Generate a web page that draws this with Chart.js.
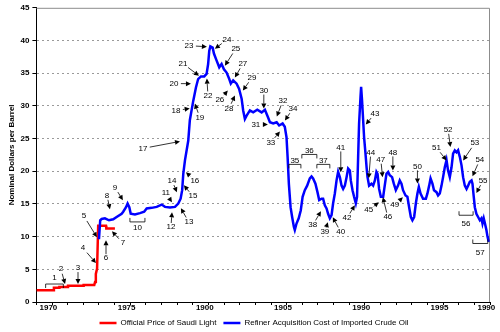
<!DOCTYPE html>
<html>
<head>
<meta charset="utf-8">
<script src="https://cdn.jsdelivr.net/npm/chart.js@4.4.1/dist/chart.umd.min.js"></script>
<style>
  html, body { margin: 0; padding: 0; background: #fff; }
</style>
</head>
<body>
<canvas id="oilChart" width="500" height="332"></canvas>
<script>
// Official price of Saudi Light (year, $/bbl)
const saudiYears  = [1970.0, 1971.1, 1971.12, 1971.45, 1971.47, 1972.0, 1972.02, 1973.0, 1973.02, 1973.70, 1973.75, 1973.80, 1973.88, 1973.95, 1974.45, 1974.47, 1975.02];
const saudiPrices = [1.80, 1.80, 2.18, 2.18, 2.29, 2.29, 2.48, 2.48, 2.59, 2.60, 3.07, 4.30, 5.12, 11.65, 11.65, 11.25, 11.25];

// Refiner acquisition cost of imported crude oil (year, $/bbl)
const racYears = [
  1974.00, 1974.08, 1974.17, 1974.38, 1974.64, 1974.91, 1975.13, 1975.45, 1975.55, 1975.73,
  1975.83, 1975.94, 1976.03, 1976.30, 1976.62, 1976.89, 1977.05, 1977.37, 1977.69, 1978.01,
  1978.22, 1978.54, 1978.86, 1979.07, 1979.22, 1979.32, 1979.39, 1979.50, 1979.71, 1979.81,
  1980.03, 1980.20, 1980.34, 1980.52, 1980.73, 1980.88, 1980.98, 1981.05, 1981.12, 1981.27,
  1981.35, 1981.51, 1981.69, 1981.84, 1981.99, 1982.16, 1982.33, 1982.43, 1982.58, 1982.80,
  1982.96, 1983.12, 1983.22, 1983.33, 1983.44, 1983.65, 1983.86, 1984.12, 1984.40, 1984.61,
  1984.80, 1984.93, 1985.14, 1985.36, 1985.52, 1985.74, 1985.88, 1985.99, 1986.06, 1986.14,
  1986.25, 1986.35, 1986.46, 1986.52, 1986.63, 1986.77, 1986.90, 1987.02, 1987.16, 1987.31,
  1987.48, 1987.59, 1987.69, 1987.84, 1987.97, 1988.08, 1988.23, 1988.33, 1988.44, 1988.55,
  1988.65, 1988.76, 1988.87, 1988.97, 1989.08, 1989.19, 1989.29, 1989.40, 1989.51, 1989.61,
  1989.72, 1989.83, 1989.93, 1990.04, 1990.10, 1990.21, 1990.31, 1990.42, 1990.50, 1990.57,
  1990.63, 1990.72, 1990.76, 1990.82, 1990.89, 1990.95, 1991.04, 1991.11, 1991.17, 1991.27,
  1991.42, 1991.53, 1991.64, 1991.74, 1991.81, 1991.91, 1992.02, 1992.17, 1992.27, 1992.38,
  1992.49, 1992.59, 1992.74, 1992.85, 1992.98, 1993.12, 1993.23, 1993.34, 1993.44, 1993.60,
  1993.72, 1993.83, 1993.94, 1994.04, 1994.15, 1994.26, 1994.36, 1994.45, 1994.56, 1994.72,
  1994.90, 1995.00, 1995.11, 1995.20, 1995.32, 1995.42, 1995.58, 1995.68, 1995.79, 1995.90,
  1996.00, 1996.11, 1996.22, 1996.32, 1996.43, 1996.54, 1996.64, 1996.75, 1996.86, 1996.96,
  1997.07, 1997.18, 1997.28, 1997.39, 1997.50, 1997.60, 1997.71, 1997.82, 1997.88, 1997.96,
  1998.03, 1998.13, 1998.24, 1998.35, 1998.45, 1998.52, 1998.60, 1998.66, 1998.77, 1998.84,
  1998.92
];
const racPrices = [
  9.6, 12.5, 12.7, 12.8, 12.5, 12.65, 13.0, 13.5, 13.8, 14.5,
  15.05, 14.5, 13.5, 13.4, 13.6, 13.8, 14.3, 14.4, 14.55, 14.9,
  14.55, 14.45, 14.55, 15.05, 15.8, 17.1, 19.6, 21.7, 24.7, 27.8,
  30.8, 32.8, 34.1, 34.5, 34.5, 34.9, 36.4, 38.4, 39.1, 38.9,
  38.0, 37.0, 35.9, 36.4, 35.6, 35.1, 34.1, 33.4, 33.9, 33.4,
  32.6, 31.1, 29.3, 28.0, 28.5, 29.3, 29.0, 29.4, 29.0, 29.4,
  28.3, 27.5, 27.3, 27.5, 27.0, 27.3, 26.8, 25.2, 22.2, 18.1,
  14.5, 13.0, 11.5, 11.0, 12.0, 12.8, 14.0, 16.1, 17.1, 17.8,
  18.9, 19.2, 18.9, 18.1, 16.8, 15.6, 15.8, 15.8, 14.8, 14.3,
  13.5, 12.8, 13.3, 15.1, 16.6, 18.6, 19.9, 19.1, 17.8, 17.3,
  17.8, 19.1, 20.4, 20.1, 18.6, 17.1, 16.1, 15.1, 16.1, 22.2,
  27.3, 31.3, 32.9, 30.8, 27.8, 25.2, 22.7, 20.6, 19.1, 17.8,
  18.1, 17.8, 18.6, 19.9, 19.6, 17.3, 16.1, 16.1, 17.8, 19.6,
  19.9, 19.4, 19.1, 18.1, 17.1, 17.8, 18.6, 18.1, 17.1, 16.3,
  16.1, 14.5, 13.0, 12.5, 13.0, 15.1, 16.6, 17.6, 16.6, 15.8,
  15.8, 16.6, 17.8, 18.9, 18.1, 17.1, 16.8, 16.3, 16.6, 17.8,
  19.1, 20.6, 21.7, 20.1, 19.1, 20.6, 22.7, 23.2, 22.9, 23.2,
  22.2, 20.9, 19.1, 17.8, 17.3, 17.8, 18.4, 18.6, 18.1, 16.1,
  14.5, 13.5, 13.0, 12.5, 12.8, 12.0, 12.8, 12.2, 11.0, 10.0,
  9.2
];

const tickYears  = [1970, 1975, 1980, 1985, 1990, 1995, 1998];
const tickLabels = ['1970', '1975', '1900', '1905', '1990', '1995', '1990'];

// numbered arrows: label, text at (year, $), arrow tip at (year, $)
const arrowNotes = [
  ['2', 1971.57, 5.03, 1971.83, 2.75],
  ['3', 1972.66, 5.19, 1972.66, 2.75],
  ['4', 1972.98, 8.24, 1973.81, 5.95],
  ['5', 1973.04, 13.12, 1973.87, 9.91],
  ['6', 1974.45, 6.71, 1974.45, 9.46],
  ['7', 1975.53, 9.00, 1974.83, 10.83],
  ['8', 1974.51, 16.32, 1974.70, 14.19],
  ['9', 1975.02, 17.54, 1975.53, 15.56],
  ['11', 1978.28, 16.63, 1978.67, 15.25],
  ['12', 1978.60, 11.44, 1978.67, 13.73],
  ['13', 1979.75, 12.20, 1979.24, 14.34],
  ['14', 1978.67, 18.61, 1978.98, 16.78],
  ['15', 1980.01, 16.17, 1979.43, 17.85],
  ['16', 1980.13, 18.61, 1979.56, 19.83],
  ['17', 1976.81, 23.49, 1979.18, 24.56],
  ['18', 1978.92, 29.29, 1979.80, 29.59],
  ['19', 1980.45, 28.22, 1980.13, 30.35],
  ['20', 1978.79, 33.40, 1979.88, 33.40],
  ['21', 1979.37, 36.46, 1980.39, 34.62],
  ['22', 1980.97, 31.57, 1980.90, 34.17],
  ['23', 1979.75, 39.20, 1980.90, 39.05],
  ['24', 1982.18, 40.12, 1981.41, 38.74],
  ['25', 1982.75, 38.74, 1982.05, 36.15],
  ['26', 1981.73, 30.96, 1982.24, 32.34],
  ['27', 1983.20, 36.46, 1982.69, 34.32],
  ['28', 1982.31, 29.59, 1982.69, 31.57],
  ['29', 1983.78, 34.32, 1983.20, 32.34],
  ['30', 1984.54, 32.34, 1984.54, 29.59],
  ['31', 1984.03, 27.15, 1984.80, 27.15],
  ['32', 1985.76, 30.81, 1985.37, 28.37],
  ['33', 1984.99, 24.41, 1985.57, 26.08],
  ['34', 1986.40, 29.59, 1985.89, 27.76],
  ['38', 1987.67, 11.75, 1988.19, 13.88],
  ['39', 1988.44, 10.68, 1988.63, 12.20],
  ['40', 1989.46, 10.68, 1988.95, 12.97],
  ['41', 1989.46, 23.64, 1989.46, 19.83],
  ['42', 1989.85, 12.81, 1990.36, 14.80],
  ['43', 1991.64, 28.83, 1991.06, 27.15],
  ['44', 1991.38, 22.88, 1991.25, 18.91],
  ['45', 1991.25, 14.03, 1991.89, 15.25],
  ['46', 1992.47, 12.97, 1992.15, 16.02],
  ['47', 1992.02, 21.81, 1992.13, 19.07],
  ['48', 1992.79, 22.88, 1992.79, 20.13],
  ['49', 1992.91, 14.80, 1993.43, 16.02],
  ['50', 1994.36, 20.74, 1994.36, 18.11],
  ['51', 1995.58, 23.60, 1996.22, 21.66],
  ['52', 1996.32, 26.39, 1996.47, 23.69],
  ['53', 1998.03, 24.30, 1997.28, 21.66],
  ['54', 1998.35, 21.77, 1997.88, 19.22],
  ['55', 1998.56, 18.61, 1998.13, 16.67]
];

// numbered brackets: label, from year, to year, bracket level $, label at $
const bracketNotes = [
  ['1', 1970.59, 1971.72, 2.75, 3.66],
  ['10', 1975.98, 1976.94, 12.25, 11.29],
  ['35', 1986.14, 1986.91, 21.05, 21.66],
  ['36', 1986.97, 1987.93, 22.57, 23.19],
  ['37', 1987.93, 1988.76, 21.05, 21.66],
  ['56', 1997.02, 1997.92, 13.27, 11.90],
  ['57', 1997.90, 1998.86, 8.95, 7.47]
];

const toPoints = (xs, ys) => xs.map((v, i) => ({ x: v, y: ys[i] }));

// grey frame on top and right of plot
const framePlugin = {
  id: 'frame',
  beforeDatasetsDraw(chart) {
    const { ctx, chartArea: a } = chart;
    ctx.save();
    ctx.strokeStyle = '#8c8c8c';
    ctx.lineWidth = 1;
    ctx.beginPath();
    ctx.moveTo(a.left, a.top + 0.5);
    ctx.lineTo(a.right - 0.5, a.top + 0.5);
    ctx.lineTo(a.right - 0.5, a.bottom);
    ctx.stroke();
    ctx.restore();
  }
};

const notesPlugin = {
  id: 'notes',
  afterDatasetsDraw(chart) {
    const { ctx } = chart;
    const xs = chart.scales.x, ys = chart.scales.y;
    ctx.save();
    ctx.fillStyle = '#000';
    ctx.strokeStyle = '#000';
    ctx.lineWidth = 0.8;
    ctx.font = '8px "Liberation Sans", Arial, sans-serif';
    ctx.textAlign = 'center';
    ctx.textBaseline = 'middle';

    arrowNotes.forEach(([label, tx, ty, px, py]) => {
      const x0 = xs.getPixelForValue(tx), y0 = ys.getPixelForValue(ty);
      const x1 = xs.getPixelForValue(px), y1 = ys.getPixelForValue(py);
      ctx.fillText(label, x0, y0);
      const dx = x1 - x0, dy = y1 - y0;
      const len = Math.hypot(dx, dy);
      const ux = dx / len, uy = dy / len;
      const gap = 4 + 3 * Math.abs(ux);
      const head = 5, half = 2.5;
      const bx = x1 - ux * head, by = y1 - uy * head;
      ctx.beginPath();
      ctx.moveTo(x0 + ux * gap, y0 + uy * gap);
      ctx.lineTo(bx, by);
      ctx.stroke();
      ctx.beginPath();
      ctx.moveTo(x1, y1);
      ctx.lineTo(bx - uy * half, by + ux * half);
      ctx.lineTo(bx + uy * half, by - ux * half);
      ctx.closePath();
      ctx.fill();
    });

    bracketNotes.forEach(([label, a, b, level, ly]) => {
      const xa = xs.getPixelForValue(a), xb = xs.getPixelForValue(b);
      const yl = ys.getPixelForValue(level), yt = ys.getPixelForValue(ly);
      const dir = yt < yl ? 4 : -4; // ticks point away from the label
      ctx.beginPath();
      ctx.moveTo(xa, yl + dir);
      ctx.lineTo(xa, yl);
      ctx.lineTo(xb, yl);
      ctx.lineTo(xb, yl + dir);
      ctx.stroke();
      ctx.fillText(label, (xa + xb) / 2, yt);
    });
    ctx.restore();
  }
};

const legendShift = {
  id: 'legendShift',
  afterLayout(chart) {
    chart.legend.left += 9;
    chart.legend.right += 9;
  }
};

Chart.defaults.font.family = '"Liberation Sans", Arial, sans-serif';
Chart.defaults.font.size = 8;
Chart.defaults.color = '#000';

new Chart(document.getElementById('oilChart'), {
  type: 'line',
  data: {
    datasets: [
      {
        label: 'Official Price of Saudi Light',
        data: toPoints(saudiYears, saudiPrices),
        borderColor: '#ff0000',
        backgroundColor: '#ff0000',
        borderWidth: 2.5,
        pointRadius: 0,
        tension: 0,
        order: 2
      },
      {
        label: 'Refiner Acquisition Cost of Imported Crude Oil',
        data: toPoints(racYears, racPrices),
        borderColor: '#0000ff',
        backgroundColor: '#0000ff',
        borderWidth: 2.5,
        pointRadius: 0,
        tension: 0,
        order: 1
      }
    ]
  },
  options: {
    responsive: false,
    animation: false,
    layout: { padding: { left: 0, right: 10, top: 7, bottom: 0 } },
    scales: {
      x: {
        type: 'linear',
        min: 1970,
        max: 1999,
        ticks: {
          stepSize: 1,
          autoSkip: false,
          maxRotation: 0,
          labelOffset: 12,
          padding: -1,
          font: { weight: 'bold', lineHeight: 1 },
          callback: (v) => {
            const i = tickYears.indexOf(v);
            return i < 0 ? '' : tickLabels[i];
          }
        },
        grid: { drawOnChartArea: false, tickLength: 3, tickColor: '#000' },
        border: { color: '#000' },
        afterFit: (s) => { s.height = 10; }
      },
      y: {
        min: 0,
        max: 45,
        ticks: { stepSize: 5, padding: 3, font: { weight: 'bold' } },
        grid: {
          color: (c) => (c.tick.value === 0 || c.tick.value === 45) ? 'rgba(0,0,0,0)' : '#9a9a9a',
          tickColor: '#000',
          tickLength: 4
        },
        border: { color: '#000', dash: [2, 3] },
        title: {
          display: true,
          text: 'Nominal Dollars per Barrel',
          font: { size: 8, weight: 'bold' },
          padding: { top: 7, bottom: 0 }
        },
        afterFit: (s) => { s.width = 36.4; }
      }
    },
    plugins: {
      legend: {
        position: 'bottom',
        maxHeight: 20,
        labels: {
          usePointStyle: true,
          pointStyle: 'line',
          pointStyleWidth: 17,
          padding: 7,
          font: { size: 8 },
          sort: (a, b) => a.datasetIndex - b.datasetIndex
        }
      },
      tooltip: { enabled: false }
    }
  },
  plugins: [framePlugin, notesPlugin, legendShift]
});
</script>
</body>
</html>
